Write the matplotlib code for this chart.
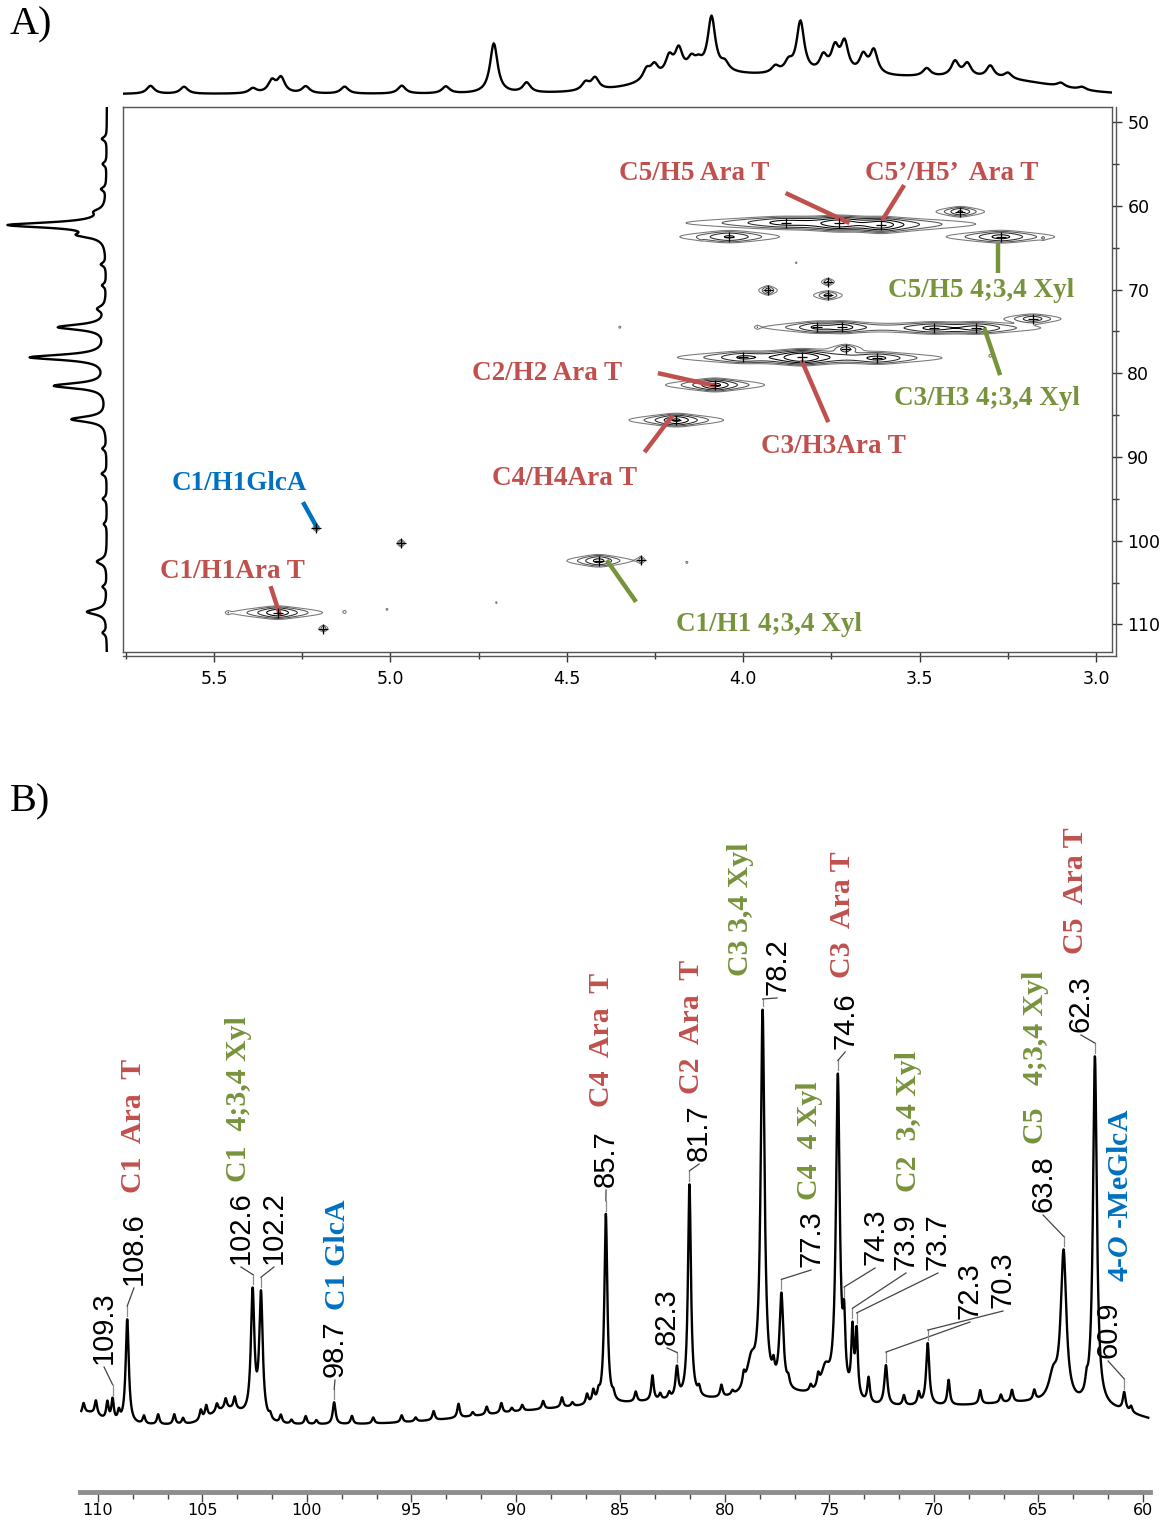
import numpy as np
import matplotlib.pyplot as plt
from matplotlib.ticker import MultipleLocator
from matplotlib import font_manager

plt.rcParams['font.family'] = ['DejaVu Sans']
plt.rcParams['mathtext.fontset'] = 'custom'
plt.rcParams['mathtext.rm'] = 'Liberation Serif:bold'
plt.rcParams['mathtext.it'] = 'Liberation Serif:italic:bold'
plt.rcParams['mathtext.bf'] = 'Liberation Serif:bold'

RED = '#C0504D'
GREEN = '#77933C'
BLUE = '#0070C0'

# ---------------- HSQC cross peaks (1H ppm, 13C ppm, intensity, 1H half width, 13C sd)
hsqc_h = [5.32, 5.21, 4.97, 5.19, 4.41, 4.29, 4.19, 4.08, 3.835, 4.00, 3.71, 3.62,
          3.72, 3.79, 3.46, 3.34, 3.18, 3.93, 3.76, 3.76, 3.73, 3.61, 3.385, 4.04,
          3.27, 3.88]
hsqc_c = [108.6, 98.5, 100.3, 110.5, 102.4, 102.3, 85.6, 81.4, 78.1, 78.1, 77.1, 78.2,
          74.5, 74.5, 74.6, 74.6, 73.5, 70.1, 69.1, 70.7, 62.1, 62.3, 60.7, 63.7,
          63.7, 62.0]
hsqc_amp = [0.5, 0.12, 0.15, 0.12, 0.35, 0.12, 0.55, 0.6, 1.0, 0.25, 0.2, 0.3,
            0.35, 0.25, 0.3, 0.3, 0.22, 0.2, 0.15, 0.18, 0.7, 0.7, 0.3, 0.3,
            0.35, 0.3]
hsqc_wh = [0.035, 0.006, 0.006, 0.008, 0.03, 0.005, 0.035, 0.035, 0.045, 0.05, 0.02, 0.05,
           0.04, 0.04, 0.06, 0.05, 0.035, 0.012, 0.01, 0.02, 0.05, 0.045, 0.025, 0.05,
           0.05, 0.08]
hsqc_wc = [0.35, 0.25, 0.25, 0.25, 0.35, 0.25, 0.35, 0.35, 0.4, 0.35, 0.3, 0.35,
           0.35, 0.35, 0.35, 0.35, 0.3, 0.3, 0.25, 0.3, 0.4, 0.4, 0.3, 0.35,
           0.35, 0.35]
# tiny isolated spots
dot_h = [5.46, 5.13, 5.01, 4.70, 4.16, 3.85, 3.96, 4.12, 3.15, 4.35, 3.30]
dot_c = [108.6, 108.5, 108.2, 107.4, 102.6, 66.8, 74.5, 63.9, 63.9, 74.5, 77.9]

# ---------------- 1H projection (top)
h1_peak_ppm = [5.68, 5.585, 5.39, 5.336, 5.31, 5.24, 5.13, 4.968, 4.843, 4.707, 4.614,
               4.447, 4.42, 4.274, 4.252, 4.21, 4.183, 4.147, 4.127, 4.09, 4.052,
               3.909, 3.872, 3.838, 3.773, 3.74, 3.713, 3.66, 3.63, 3.48, 3.40,
               3.365, 3.30, 3.25, 3.10, 3.04]
h1_peak_amp = [8, 7, 5, 12, 15, 7, 7, 8, 7, 50, 10,
               8, 12, 11, 13, 18, 24, 12, 8, 55, 8,
               7, 10, 52, 16, 24, 30, 18, 24, 8, 15,
               13, 12, 6, 4, 3]
h1_hump_ppm = [3.82, 4.15, 3.40, 3.20]
h1_hump_amp = [18, 9, 8, 7]
h1_hump_sd = [0.3, 0.12, 0.15, 0.12]
h1_offset = 8

# ---------------- 13C projection (left)
c_proj_ppm = [60.7, 62.3, 63.5, 72.3, 74.5, 78.1, 81.5, 85.5, 102.5, 108.5,
              52, 55, 58, 67, 69.5, 89, 92, 95, 98, 105.5, 111]
c_proj_amp = [8, 97, 22, 8, 48, 76, 52, 35, 10, 20,
              5, 4, 5, 5, 4, 4, 5, 4, 3, 4, 4]
c_proj_offset = 8

# ---------------- 1D 13C spectrum (bottom)
c13_peak_ppm = [109.3, 108.6, 102.6, 102.2, 98.7, 85.7, 82.3, 81.7, 78.2, 77.3, 74.6,
                74.3, 73.9, 73.7, 72.3, 70.3, 63.8, 62.3, 60.9, 78.75, 75.2, 64.3]
c13_peak_amp = [22, 105, 125, 125, 22, 190, 30, 215, 380, 95, 320,
                60, 65, 65, 40, 62, 150, 350, 18, 30, 25, 25]
c13_peak_hw = [0.07, 0.09, 0.1, 0.1, 0.08, 0.085, 0.08, 0.085, 0.11, 0.11, 0.11,
               0.07, 0.07, 0.07, 0.09, 0.09, 0.16, 0.11, 0.08, 0.25, 0.25, 0.25]
c13_bump_ppm = [110.69, 110.1, 109.55, 109.0, 107.8, 107.12, 106.35, 105.93, 105.08,
                104.82, 104.31, 103.89, 103.46, 101.76, 101.25, 100.74, 100.06, 99.55,
                97.85, 96.83, 95.47, 94.8, 93.94, 92.75, 92.07, 91.4, 90.7, 90.2, 89.7,
                88.7, 87.8, 87.3, 86.6, 86.3, 86.05, 85.34, 84.27, 83.47, 83.1, 82.67,
                81.24, 80.17, 79.64, 79.1, 77.68, 76.97, 75.9, 75.54, 73.13, 71.44,
                70.73, 69.3, 67.79, 66.8, 66.27, 65.2, 62.7, 60.57]
c13_bump_amp = [10, 14, 18, 10, 8, 10, 10, 6, 10,
                12, 8, 10, 12, 5, 8, 4, 8, 4,
                8, 6, 7, 4, 9, 14, 4, 8, 10, 4, 6,
                8, 10, 4, 10, 12, 8, 6, 10, 25, 6, 6,
                8, 12, 4, 12, 15, 8, 6, 12, 25, 10,
                12, 25, 14, 8, 12, 10, 12, 6]
c13_hump_ppm = [110.5, 103.8, 88, 81, 76.5, 70, 65, 61.5]
c13_hump_amp = [12, 15, 14, 20, 15, 18, 12, 10]
c13_hump_sd = [0.6, 0.8, 4, 3.5, 2, 4, 2, 1.5]
c13_offset = -5

c13_label_ppm = [109.3, 108.6, 102.6, 102.2, 98.7, 85.7, 82.3, 81.7, 78.2, 77.3, 74.6,
                 74.3, 73.9, 73.7, 72.3, 70.3, 63.8, 62.3, 60.9]


def lor(x, x0, a, w):
    return a / (1 + ((x - x0) / w) ** 2)


def gau(x, x0, a, s):
    return a * np.exp(-0.5 * ((x - x0) / s) ** 2)


def c13_model(x):
    y = np.full_like(x, c13_offset, dtype=float)
    for p, a, w in zip(c13_peak_ppm, c13_peak_amp, c13_peak_hw):
        y += lor(x, p, a, w)
    for p, a in zip(c13_bump_ppm, c13_bump_amp):
        y += lor(x, p, a, 0.07)
    for p, a, s in zip(c13_hump_ppm, c13_hump_amp, c13_hump_sd):
        y += gau(x, p, a, s)
    return y


def h1_model(x):
    y = np.full_like(x, h1_offset, dtype=float)
    for p, a in zip(h1_peak_ppm, h1_peak_amp):
        y += lor(x, p, a, 0.013)
    for p, a, s in zip(h1_hump_ppm, h1_hump_amp, h1_hump_sd):
        y += gau(x, p, a, s)
    return y


def cproj_model(x):
    y = np.full_like(x, c_proj_offset, dtype=float)
    for p, a in zip(c_proj_ppm, c_proj_amp):
        w = 0.38 if a > 6 else 0.25
        y += lor(x, p, a, w)
    return y


W, H = 1165, 1525
fig = plt.figure(figsize=(W / 100, H / 100), dpi=100)
fig.patch.set_facecolor('white')


def fbox(x0, y0, x1, y1):
    return [x0 / W, 1 - y1 / H, (x1 - x0) / W, (y1 - y0) / H]


H_LIM = (5.758, 2.955)
C_LIM = (113.3, 48.2)

# ---------------- panel A : HSQC
ax = fig.add_axes(fbox(123, 107, 1112, 652))
hg = np.linspace(H_LIM[0], H_LIM[1], 1100)
cg = np.linspace(C_LIM[1], C_LIM[0], 800)
HH, CC = np.meshgrid(hg, cg)
Z = np.zeros_like(HH)
for h0, c0, a, wh, wc in zip(hsqc_h, hsqc_c, hsqc_amp, hsqc_wh, hsqc_wc):
    Z += a * np.exp(-0.5 * ((CC - c0) / wc) ** 2) / (1 + ((HH - h0) / wh) ** 2)
for h0, c0 in zip(dot_h, dot_c):
    Z += 0.045 * np.exp(-0.5 * ((CC - c0) / 0.15) ** 2) / (1 + ((HH - h0) / 0.004) ** 2)
ax.contour(HH, CC, Z, levels=[0.035, 0.07, 0.14, 0.28, 0.5],
           colors=['#777777', '#555555', '#2a2a2a', '#000000', '#000000'],
           linewidths=0.75)
ax.scatter(hsqc_h, hsqc_c, marker='+', s=45, c='k', linewidths=0.9, zorder=3)
ax.set_xlim(*H_LIM)
ax.set_ylim(*C_LIM)
for s in ax.spines.values():
    s.set_color('#555555')
    s.set_linewidth(1.0)
ax.yaxis.tick_right()
ax.xaxis.set_major_locator(MultipleLocator(0.5))
ax.xaxis.set_minor_locator(MultipleLocator(0.25))
ax.yaxis.set_major_locator(MultipleLocator(10))
ax.yaxis.set_minor_locator(MultipleLocator(5))
ax.xaxis.set_major_formatter(plt.FuncFormatter(lambda v, p: f'{v:.1f}'))
ax.tick_params(axis='both', which='both', direction='out', color='#333333', width=1)
ax.tick_params(axis='both', which='major', length=7, labelsize=12.5, pad=6)
ax.tick_params(axis='both', which='minor', length=5)
ax.tick_params(axis='y', which='both', left=False, right=True, labelleft=False, labelright=True, pad=4)
for xs, ys in (([0, 1.004], [-0.007, -0.007]), ([1.004, 1.004], [-0.007, 1])):
    ax.plot(xs, ys, transform=ax.transAxes, color='#555555', lw=1.0, clip_on=False)

hsqc_notes = [
    ('C5/H5 Ara T', RED, 4.353, 56.09, (3.880, 58.48), (3.699, 62.07)),
    ('C5\u2019/H5\u2019  Ara T', RED, 3.654, 56.09, (3.544, 57.53), (3.606, 61.71)),
    ('C5/H5 4;3,4 Xyl', GREEN, 3.589, 70.07, (3.278, 64.46), (3.278, 68.04)),
    ('C3/H3 4;3,4 Xyl', GREEN, 3.572, 82.97, (3.317, 74.61), (3.272, 80.23)),
    ('C2/H2 Ara T', RED, 4.770, 79.99, (4.242, 79.99), (4.076, 81.54)),
    ('C3/H3Ara T', RED, 3.949, 88.71, (3.835, 78.43), (3.759, 85.84)),
    ('C4/H4Ara T', RED, 4.713, 92.53, (4.200, 85.00), (4.280, 89.43)),
    ('C1/H1GlcA', BLUE, 5.619, 93.13, (5.248, 95.40), (5.207, 98.51)),
    ('C1/H1Ara T', RED, 5.653, 103.64, (5.340, 105.44), (5.313, 108.90)),
    ('C1/H1 4;3,4 Xyl', GREEN, 4.192, 109.98, (4.387, 102.33), (4.304, 107.31)),
]
for txt, col, tx, ty, p0, p1 in hsqc_notes:
    ax.text(tx, ty, txt, color=col, family='Liberation Serif', weight='bold',
            fontsize=19.5, ha='left', va='center')
    ax.plot([p0[0], p1[0]], [p0[1], p1[1]], color=col, lw=3.2, solid_capstyle='butt')

# top projection
axt = fig.add_axes(fbox(123, 10, 1112, 102))
axt.plot(hg, h1_model(hg), color='black', lw=1.7)
axt.set_xlim(*H_LIM)
axt.set_ylim(0, 92)
axt.axis('off')

# left projection
axl = fig.add_axes(fbox(0, 107, 115, 652))
axl.plot(cproj_model(cg), cg, color='black', lw=1.7)
axl.set_xlim(115, 0)
axl.set_ylim(*C_LIM)
axl.axis('off')

fig.text(10 / W, 1 - 6 / H, 'A)', family='Liberation Serif', fontsize=29, va='top', ha='left')
fig.text(10 / W, 1 - 783 / H, 'B)', family='Liberation Serif', fontsize=29, va='top', ha='left')

# ---------------- panel B : 13C spectrum
names = {f.name for f in font_manager.fontManager.ttflist}
narrow = 'Liberation Sans Narrow' if 'Liberation Sans Narrow' in names else 'DejaVu Sans'

axb = fig.add_axes(fbox(80, 795, 1150, 1492))
xs = np.linspace(110.8, 59.75, 5000)
axb.plot(xs, c13_model(xs), color='black', lw=1.7)
axb.set_xlim(110.86, 59.665)
axb.set_ylim(-72, 625)
for k in ('top', 'left', 'right'):
    axb.spines[k].set_visible(False)
axb.spines['bottom'].set_color('#8e8e8e')
axb.spines['bottom'].set_linewidth(3.5)
axb.set_yticks([])
axb.xaxis.set_major_locator(MultipleLocator(5))
axb.xaxis.set_minor_locator(MultipleLocator(5 / 3))
axb.tick_params(axis='x', which='both', direction='out', color='#444444', width=1)
axb.tick_params(axis='x', which='major', length=7, pad=1)
axb.tick_params(axis='x', which='minor', length=5)
for lab in axb.get_xticklabels():
    lab.set_family(narrow)
    lab.set_fontsize(11.5)

# numeric peak labels: text ppm, bottom of text
num_pos = [(109.71, 56), (108.28, 135), (103.16, 156), (101.58, 156), (98.66, 43),
           (85.69, 233), (82.77, 75), (81.24, 259), (77.51, 425), (75.88, 153),
           (74.25, 371), (72.82, 155), (71.34, 150), (69.81, 150), (68.28, 101),
           (66.70, 112), (64.78, 208), (62.97, 388), (61.67, 62)]
for p, (tx, ty) in zip(c13_label_ppm, num_pos):
    top = c13_model(np.array([p]))[0]
    y0 = top + 3
    y1 = min(top + 13, ty - 4)
    axb.plot([p, p], [y0, y1], color='#8a8a8a', lw=0.9)
    axb.plot([p, tx], [y1, ty - 3], color='#444444', lw=0.9)
    axb.text(tx, ty, f'{p:.1f}', rotation=90, ha='center', va='bottom',
             family='Liberation Sans', fontsize=21)

comp_labels = [
    ('C1  Ara  T', RED, 108.28, 227),
    ('C1  4;3,4 Xyl', GREEN, 103.30, 238),
    ('C1 GlcA', BLUE, 98.52, 110),
    ('C4  Ara  T', RED, 85.89, 313),
    ('C2  Ara  T', RED, 81.58, 326),
    ('C3 3,4 Xyl', GREEN, 79.28, 444),
    ('C3  Ara T', RED, 74.40, 442),
    ('C4  4 Xyl', GREEN, 75.98, 220),
    ('C2  3,4 Xyl', GREEN, 71.24, 228),
    ('C5   4;3,4 Xyl', GREEN, 65.12, 276),
    ('C5  Ara T', RED, 63.25, 466),
    (r'4-$\mathit{O}$ -MeGlcA', BLUE, 61.10, 138),
]
for txt, col, tx, ty in comp_labels:
    axb.text(tx, ty, txt, rotation=90, ha='center', va='bottom', color=col,
             family='Liberation Serif', weight='bold', fontsize=21.5)

fig.savefig('out.png', dpi=100, facecolor='white')
